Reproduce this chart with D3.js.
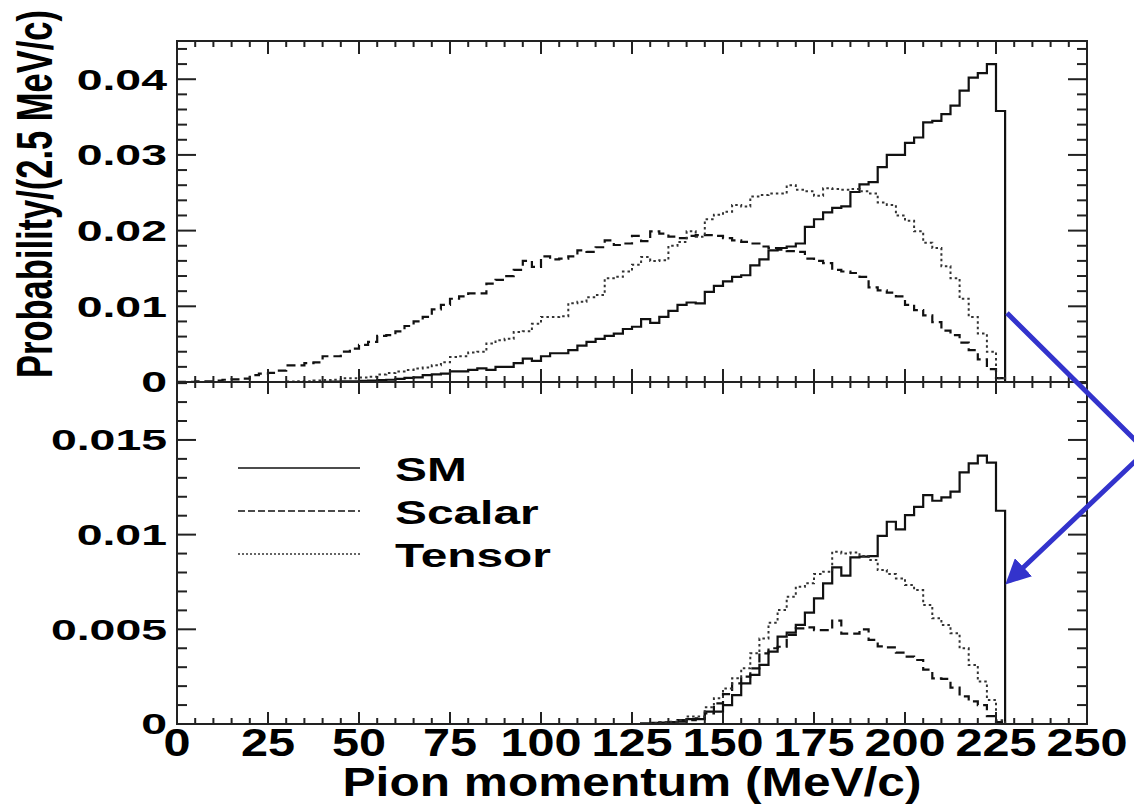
<!DOCTYPE html>
<html>
<head>
<meta charset="utf-8">
<script src="https://cdn.jsdelivr.net/npm/d3@7"></script>
<style>
  body { margin: 0; background: #fff; }
  text { font-family: "Liberation Sans", Arial, sans-serif; font-weight: bold; fill: #000; }
</style>
</head>
<body>
<svg id="chart" width="1134" height="804"></svg>
<script>
// pion momentum spectra, 2.5 MeV/c bins starting at 0
var binWidth = 2.5;
var seriesNames = ["SM", "Scalar", "Tensor"];

// top panel
var smTop = [
  0, 0, 0, 0, 0, 0, 0, 0, 0, 0,
  0, 0, 0, 0, 0, 0, 0.00003, 0.00005, 0.0001, 0.0001,
  0.00015, 0.0002, 0.00026, 0.0003, 0.0004, 0.00055, 0.0006, 0.0009, 0.0010, 0.0011,
  0.0014, 0.0014, 0.0016, 0.0018, 0.0016, 0.0020, 0.0020, 0.0025, 0.0031, 0.0028,
  0.0034, 0.0038, 0.0038, 0.0042, 0.0048, 0.0053, 0.0057, 0.0061, 0.0064, 0.0070,
  0.0073, 0.0083, 0.0078, 0.0086, 0.0094, 0.0102, 0.0105, 0.0104, 0.0119, 0.0127,
  0.0133, 0.0139, 0.0141, 0.0154, 0.0162, 0.0174, 0.0177, 0.0179, 0.0183, 0.0205,
  0.0215, 0.0224, 0.0230, 0.0232, 0.0251, 0.0261, 0.0264, 0.0284, 0.0300, 0.0300,
  0.0316, 0.0323, 0.0343, 0.0345, 0.0354, 0.0365, 0.0385, 0.0402, 0.0408, 0.0420,
  0.0358, 0
];
var scalarTop = [
  0.00002, 0.00003, 0.00008, 0.0001, 0.0002, 0.0003, 0.00035, 0.00045, 0.0009, 0.0011,
  0.0012, 0.0015, 0.0022, 0.0022, 0.0025, 0.0026, 0.0034, 0.0034, 0.0040, 0.0044,
  0.0049, 0.0053, 0.0061, 0.0062, 0.0067, 0.0074, 0.0080, 0.0086, 0.0096, 0.0102,
  0.0110, 0.0113, 0.0117, 0.0117, 0.0130, 0.0135, 0.0140, 0.0148, 0.0160, 0.0152,
  0.0166, 0.0162, 0.0163, 0.0166, 0.0174, 0.0172, 0.0178, 0.0187, 0.0181, 0.0183,
  0.0193, 0.0186, 0.0199, 0.0196, 0.0192, 0.0190, 0.0193, 0.0194, 0.0194, 0.0193,
  0.0190, 0.0187, 0.0185, 0.0183, 0.0179, 0.0177, 0.0175, 0.0173, 0.0172, 0.0163,
  0.0160, 0.0157, 0.0148, 0.0146, 0.0144, 0.0139, 0.0125, 0.0121, 0.0118, 0.0113,
  0.0102, 0.0095, 0.0088, 0.0079, 0.0068, 0.0062, 0.0052, 0.0042, 0.0030, 0.0017,
  0.0005, 0
];
var tensorTop = [
  0, 0, 0, 0, 0, 0, 0, 0, 0, 0,
  0, 0, 0.00005, 0.0001, 0.0001, 0.0002, 0.00025, 0.0003, 0.0005, 0.0005,
  0.0006, 0.0007, 0.0010, 0.0012, 0.0014, 0.0016, 0.0018, 0.0019, 0.0022, 0.0026,
  0.0033, 0.0034, 0.0039, 0.0040, 0.0051, 0.0055, 0.0057, 0.0066, 0.0067, 0.0077,
  0.0086, 0.0086, 0.0087, 0.0104, 0.0106, 0.0112, 0.0115, 0.0137, 0.0139, 0.0146,
  0.0155, 0.0165, 0.0160, 0.0161, 0.0180, 0.0185, 0.0199, 0.0192, 0.0215, 0.0221,
  0.0225, 0.0234, 0.0232, 0.0245, 0.0247, 0.0249, 0.0249, 0.0260, 0.0254, 0.0252,
  0.0246, 0.0256, 0.0255, 0.0254, 0.0255, 0.0252, 0.0249, 0.0237, 0.0234, 0.0220,
  0.0213, 0.0199, 0.0184, 0.0177, 0.0153, 0.0137, 0.0110, 0.0086, 0.0064, 0.0040,
  0.0005, 0
];

// bottom panel
var smBottom = [
  0, 0, 0, 0, 0, 0, 0, 0, 0, 0,
  0, 0, 0, 0, 0, 0, 0, 0, 0, 0,
  0, 0, 0, 0, 0, 0, 0, 0, 0, 0,
  0, 0, 0, 0, 0, 0, 0, 0, 0, 0,
  0, 0, 0, 0, 0, 0, 0, 0, 0, 0,
  0, 0.00004, 0.00006, 0.00008, 0.0001, 0.00012, 0.00026, 0.00026, 0.00065, 0.00065,
  0.0010, 0.00153, 0.00215, 0.00259, 0.00312, 0.00382, 0.00461, 0.00482, 0.00523, 0.00588,
  0.00663, 0.00743, 0.00827, 0.00783, 0.0088, 0.00884, 0.00887, 0.00993, 0.01068, 0.01028,
  0.01103, 0.01147, 0.01209, 0.01179, 0.01197, 0.01227, 0.01329, 0.01376, 0.01417, 0.0138,
  0.01126, 0
];
var scalarBottom = [
  0, 0, 0, 0, 0, 0, 0, 0, 0, 0,
  0, 0, 0, 0, 0, 0, 0, 0, 0, 0,
  0, 0, 0, 0, 0, 0, 0, 0, 0, 0,
  0, 0, 0, 0, 0, 0, 0, 0, 0, 0,
  0, 0, 0, 0, 0, 0, 0, 0, 0, 0,
  0, 0, 0, 0, 0.0001, 0.0002, 0.0002, 0.0003, 0.00056, 0.00109,
  0.00158, 0.00215, 0.0025, 0.00294, 0.00373, 0.0040, 0.00408, 0.0047, 0.00505, 0.0051,
  0.00496, 0.00496, 0.00546, 0.00477, 0.00477, 0.0050, 0.00444, 0.0041, 0.00405, 0.00377,
  0.00356, 0.00338, 0.00287, 0.00241, 0.00238, 0.00192, 0.00146, 0.0012, 0.0010, 0.00042,
  0.0001, 0
];
var tensorBottom = [
  0, 0, 0, 0, 0, 0, 0, 0, 0, 0,
  0, 0, 0, 0, 0, 0, 0, 0, 0, 0,
  0, 0, 0, 0, 0, 0, 0, 0, 0, 0,
  0, 0, 0, 0, 0, 0, 0, 0, 0, 0,
  0, 0, 0, 0, 0, 0, 0, 0, 0, 0,
  0, 0, 0.00005, 0.0001, 0.00012, 0.0002, 0.00039, 0.00039, 0.00088, 0.00136,
  0.00188, 0.00241, 0.00294, 0.00373, 0.00452, 0.00535, 0.00602, 0.00672, 0.00725, 0.00743,
  0.00792, 0.00804, 0.0091, 0.00901, 0.00905, 0.00887, 0.00866, 0.00813, 0.00792, 0.00769,
  0.00734, 0.00707, 0.00628, 0.00558, 0.00523, 0.00479, 0.0040, 0.00312, 0.00224, 0.00127,
  0.0002, 0
];

// axis ticks
var xMajor = [0, 25, 50, 75, 100, 125, 150, 175, 200, 225, 250];
var xMinor = d3.range(0, 251, 5);
var yTopMajor = [0, 0.01, 0.02, 0.03, 0.04];
var yTopLabels = ["0", "0.01", "0.02", "0.03", "0.04"];
var yTopMinor = d3.range(0, 0.0451, 0.002);
var yBotMajor = [0, 0.005, 0.01, 0.015];
var yBotLabels = ["0", "0.005", "0.01", "0.015"];
var yBotMinor = d3.range(0, 0.0181, 0.001);

var svg = d3.select("#chart");

// frame edges (window.top is read-only, so use other names)
var frameL = 177, frameR = 1087, frameT = 41, frameM = 382, frameB = 724;

var x = d3.scaleLinear().domain([0, 250]).range([frameL, frameR]);
var yTop = d3.scaleLinear().domain([0, 0.04505]).range([frameM, frameT]);
var yBot = d3.scaleLinear().domain([0, 0.01806]).range([frameB, frameM]);

var styles = {
  SM:     {color: "#111", width: 2.2, dash: null},
  Scalar: {color: "#111", width: 2.2, dash: "9,5"},
  Tensor: {color: "#333", width: 2.0, dash: "2.5,3"}
};

function histLine(vals, y) {
  var pts = vals.map(function(v, i) { return [i * binWidth, v]; });
  pts.push([vals.length * binWidth, 0]);
  return d3.line()
    .x(function(d) { return x(d[0]); })
    .y(function(d) { return y(d[1]); })
    .curve(d3.curveStepAfter)(pts);
}

function drawHists(list, y) {
  list.forEach(function(s) {
    var st = styles[s.name];
    svg.append("path")
      .attr("d", histLine(s.values, y))
      .attr("fill", "none")
      .attr("stroke", st.color)
      .attr("stroke-width", st.width)
      .attr("stroke-dasharray", st.dash);
  });
}

drawHists([{name: "SM", values: smTop}, {name: "Scalar", values: scalarTop}, {name: "Tensor", values: tensorTop}], yTop);
drawHists([{name: "SM", values: smBottom}, {name: "Scalar", values: scalarBottom}, {name: "Tensor", values: tensorBottom}], yBot);

// ticks (ROOT style, pointing inward)
var tickG = svg.append("g").attr("stroke", "#222").attr("stroke-width", 2);

function xTicks(yPos, len) {
  xMinor.forEach(function(v) {
    var l = xMajor.indexOf(v) >= 0 ? len[0] : len[1];
    tickG.append("line").attr("x1", x(v)).attr("x2", x(v)).attr("y1", yPos).attr("y2", yPos + l);
  });
}
xTicks(frameT, [13, 6]);
xTicks(frameM, [-13, -6]);
xTicks(frameM, [12, 6]);
xTicks(frameB, [-12, -6]);

function yTicks(y, minor, major) {
  minor.forEach(function(v) {
    var isMajor = major.some(function(m) { return Math.abs(m - v) < 1e-9; });
    var l = isMajor ? 19 : 10;
    tickG.append("line").attr("x1", frameL).attr("x2", frameL + l).attr("y1", y(v)).attr("y2", y(v));
    tickG.append("line").attr("x1", frameR).attr("x2", frameR - l).attr("y1", y(v)).attr("y2", y(v));
  });
}
yTicks(yTop, yTopMinor, yTopMajor);
yTicks(yBot, yBotMinor, yBotMajor);

// frame
svg.append("rect")
  .attr("x", frameL).attr("y", frameT)
  .attr("width", frameR - frameL).attr("height", frameB - frameT)
  .attr("fill", "none").attr("stroke", "#222").attr("stroke-width", 2);
svg.append("line")
  .attr("x1", frameL).attr("x2", frameR).attr("y1", frameM).attr("y2", frameM)
  .attr("stroke", "#222").attr("stroke-width", 2);

// tick labels
function yLabels(y, vals, labels) {
  vals.forEach(function(v, i) {
    svg.append("text")
      .attr("transform", "translate(167," + y(v) + ") scale(1.6,1)")
      .attr("text-anchor", "end")
      .attr("dy", "0.36em")
      .style("font-size", "29px")
      .text(labels[i]);
  });
}
yLabels(yTop, yTopMajor, yTopLabels);
yLabels(yBot, yBotMajor, yBotLabels);

xMajor.forEach(function(v) {
  svg.append("text")
    .attr("transform", "translate(" + x(v) + ",756) scale(1.28,1)")
    .attr("text-anchor", "middle")
    .style("font-size", "38px")
    .text(v);
});

// axis titles
svg.append("text")
  .attr("x", 632).attr("y", 796)
  .attr("text-anchor", "middle")
  .attr("textLength", 579)
  .attr("lengthAdjust", "spacingAndGlyphs")
  .style("font-size", "40px")
  .text("Pion momentum (MeV/c)");

svg.append("text")
  .attr("transform", "translate(52,194) scale(1.45,1) rotate(-90)")
  .attr("text-anchor", "middle")
  .attr("textLength", 368)
  .attr("lengthAdjust", "spacingAndGlyphs")
  .style("font-size", "34px")
  .text("Probability/(2.5 MeV/c)");

// legend
var legend = svg.append("g");
seriesNames.forEach(function(name, i) {
  var st = styles[name];
  var ly = 468 + i * 43;
  legend.append("line")
    .attr("x1", 238).attr("x2", 360).attr("y1", ly).attr("y2", ly)
    .attr("stroke", st.color)
    .attr("stroke-width", 1.6)
    .attr("stroke-dasharray", name === "Scalar" ? "7,3" : (name === "Tensor" ? "2,2" : null));
  legend.append("text")
    .attr("transform", "translate(395," + (ly + 13) + ") scale(1.45,1)")
    .style("font-size", "33px")
    .text(name);
});

// blue annotation arrow
svg.append("defs").append("marker")
  .attr("id", "head")
  .attr("viewBox", "0 0 10 10")
  .attr("refX", 8).attr("refY", 5)
  .attr("markerWidth", 5).attr("markerHeight", 5)
  .attr("orient", "auto")
  .append("path")
  .attr("d", "M0,0 L10,5 L0,10 z")
  .attr("fill", "#3333cc");

svg.append("path")
  .attr("d", "M1007,313 L1146,451 L1009,581")
  .attr("fill", "none")
  .attr("stroke", "#3333cc")
  .attr("stroke-width", 5)
  .attr("marker-end", "url(#head)");
</script>
</body>
</html>
